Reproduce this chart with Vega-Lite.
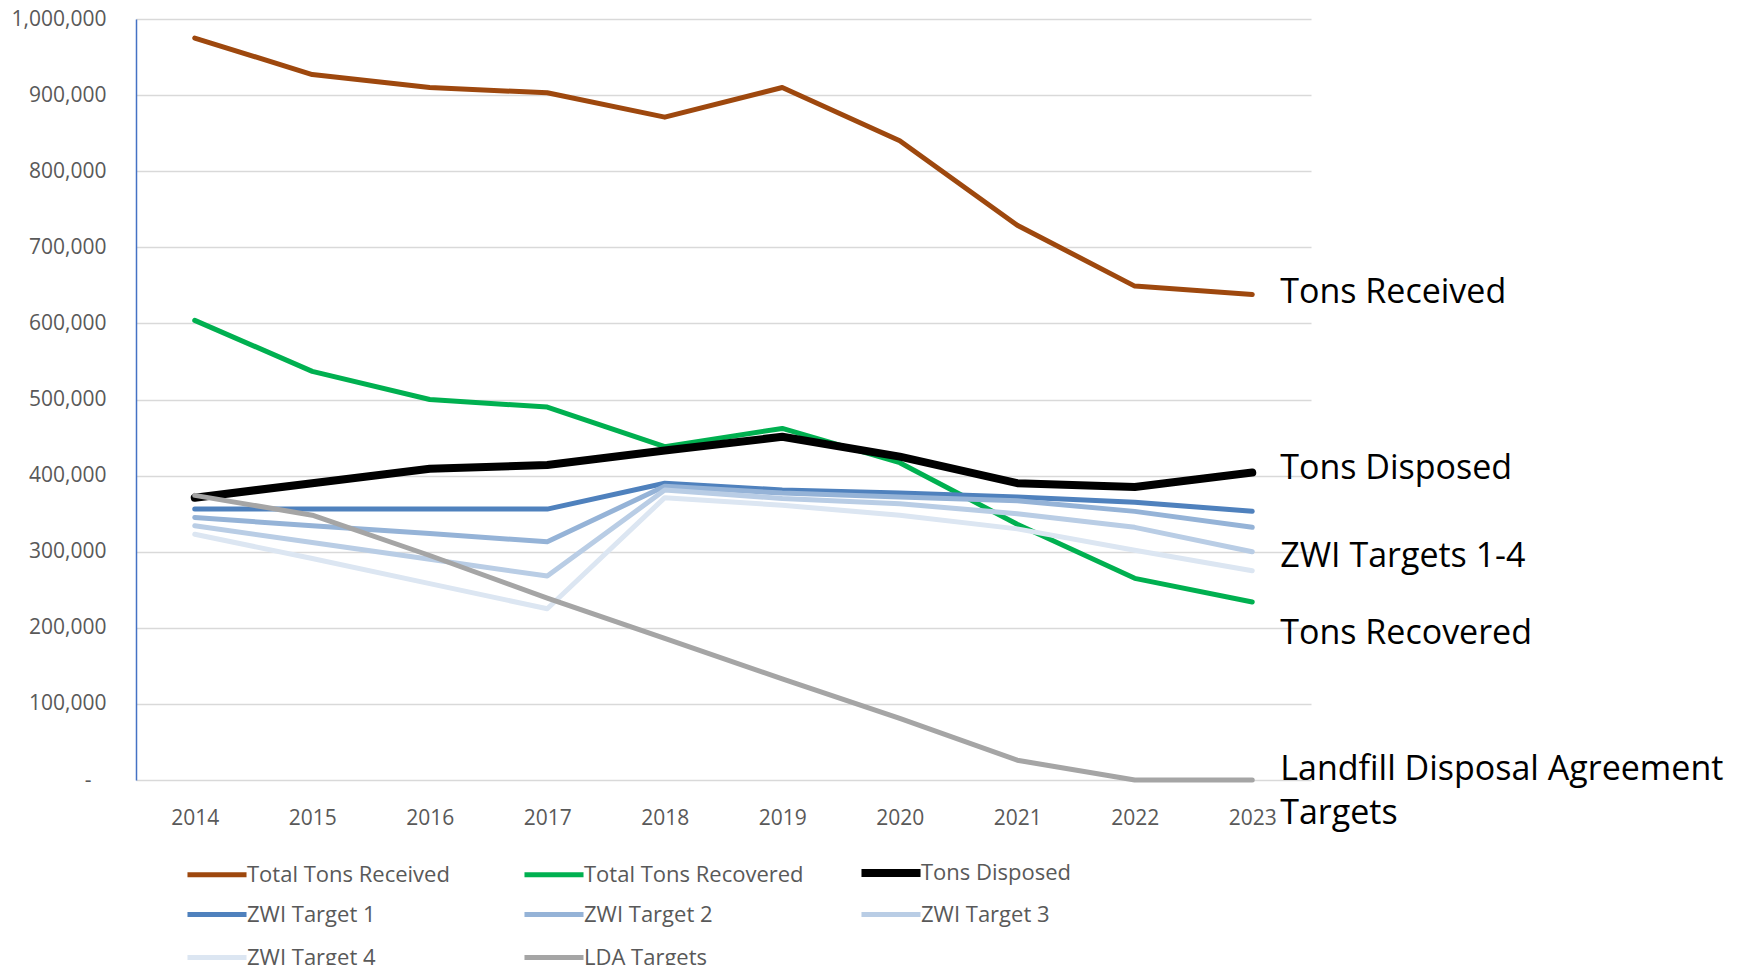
{
  "$schema": "https://vega.github.io/schema/vega-lite/v6.json",
  "width": 1175,
  "height": 761,
  "autosize": {"type": "none"},
  "padding": {"left": 136, "top": 19, "right": 439, "bottom": 185},
  "background": "white",
  "config": {
    "view": {"stroke": null},
    "font": "Open Sans",
    "axis": {"labelFont": "Open Sans", "labelColor": "#595959", "labelFontSize": 21, "ticks": false, "tickSize": 0, "title": null},
    "legend": {"labelFont": "Open Sans", "labelColor": "#595959", "labelFontSize": 22}
  },
  "datasets": {
    "series": [
      {"year": "2014", "series": "Total Tons Received", "tons": 975000},
      {"year": "2015", "series": "Total Tons Received", "tons": 927000},
      {"year": "2016", "series": "Total Tons Received", "tons": 910000},
      {"year": "2017", "series": "Total Tons Received", "tons": 903000},
      {"year": "2018", "series": "Total Tons Received", "tons": 871000},
      {"year": "2019", "series": "Total Tons Received", "tons": 910000},
      {"year": "2020", "series": "Total Tons Received", "tons": 840000},
      {"year": "2021", "series": "Total Tons Received", "tons": 729000},
      {"year": "2022", "series": "Total Tons Received", "tons": 649000},
      {"year": "2023", "series": "Total Tons Received", "tons": 638000},
      {"year": "2014", "series": "Total Tons Recovered", "tons": 604000},
      {"year": "2015", "series": "Total Tons Recovered", "tons": 537000},
      {"year": "2016", "series": "Total Tons Recovered", "tons": 500000},
      {"year": "2017", "series": "Total Tons Recovered", "tons": 490000},
      {"year": "2018", "series": "Total Tons Recovered", "tons": 438000},
      {"year": "2019", "series": "Total Tons Recovered", "tons": 462000},
      {"year": "2020", "series": "Total Tons Recovered", "tons": 417000},
      {"year": "2021", "series": "Total Tons Recovered", "tons": 336000},
      {"year": "2022", "series": "Total Tons Recovered", "tons": 265000},
      {"year": "2023", "series": "Total Tons Recovered", "tons": 234000},
      {"year": "2014", "series": "Tons Disposed", "tons": 371000},
      {"year": "2015", "series": "Tons Disposed", "tons": 390000},
      {"year": "2016", "series": "Tons Disposed", "tons": 409000},
      {"year": "2017", "series": "Tons Disposed", "tons": 414000},
      {"year": "2018", "series": "Tons Disposed", "tons": 433000},
      {"year": "2019", "series": "Tons Disposed", "tons": 451000},
      {"year": "2020", "series": "Tons Disposed", "tons": 425000},
      {"year": "2021", "series": "Tons Disposed", "tons": 390000},
      {"year": "2022", "series": "Tons Disposed", "tons": 385000},
      {"year": "2023", "series": "Tons Disposed", "tons": 404000},
      {"year": "2014", "series": "ZWI Target 1", "tons": 356000},
      {"year": "2015", "series": "ZWI Target 1", "tons": 356000},
      {"year": "2016", "series": "ZWI Target 1", "tons": 356000},
      {"year": "2017", "series": "ZWI Target 1", "tons": 356000},
      {"year": "2018", "series": "ZWI Target 1", "tons": 390000},
      {"year": "2019", "series": "ZWI Target 1", "tons": 381000},
      {"year": "2020", "series": "ZWI Target 1", "tons": 377000},
      {"year": "2021", "series": "ZWI Target 1", "tons": 372000},
      {"year": "2022", "series": "ZWI Target 1", "tons": 365000},
      {"year": "2023", "series": "ZWI Target 1", "tons": 353000},
      {"year": "2014", "series": "ZWI Target 2", "tons": 345000},
      {"year": "2015", "series": "ZWI Target 2", "tons": 334000},
      {"year": "2016", "series": "ZWI Target 2", "tons": 324000},
      {"year": "2017", "series": "ZWI Target 2", "tons": 313000},
      {"year": "2018", "series": "ZWI Target 2", "tons": 386000},
      {"year": "2019", "series": "ZWI Target 2", "tons": 377000},
      {"year": "2020", "series": "ZWI Target 2", "tons": 372000},
      {"year": "2021", "series": "ZWI Target 2", "tons": 367000},
      {"year": "2022", "series": "ZWI Target 2", "tons": 353000},
      {"year": "2023", "series": "ZWI Target 2", "tons": 332000},
      {"year": "2014", "series": "ZWI Target 3", "tons": 334000},
      {"year": "2015", "series": "ZWI Target 3", "tons": 312000},
      {"year": "2016", "series": "ZWI Target 3", "tons": 290000},
      {"year": "2017", "series": "ZWI Target 3", "tons": 268000},
      {"year": "2018", "series": "ZWI Target 3", "tons": 381000},
      {"year": "2019", "series": "ZWI Target 3", "tons": 370000},
      {"year": "2020", "series": "ZWI Target 3", "tons": 363000},
      {"year": "2021", "series": "ZWI Target 3", "tons": 350000},
      {"year": "2022", "series": "ZWI Target 3", "tons": 332000},
      {"year": "2023", "series": "ZWI Target 3", "tons": 300000},
      {"year": "2014", "series": "ZWI Target 4", "tons": 323000},
      {"year": "2015", "series": "ZWI Target 4", "tons": 291000},
      {"year": "2016", "series": "ZWI Target 4", "tons": 258000},
      {"year": "2017", "series": "ZWI Target 4", "tons": 225000},
      {"year": "2018", "series": "ZWI Target 4", "tons": 371000},
      {"year": "2019", "series": "ZWI Target 4", "tons": 361000},
      {"year": "2020", "series": "ZWI Target 4", "tons": 348000},
      {"year": "2021", "series": "ZWI Target 4", "tons": 330000},
      {"year": "2022", "series": "ZWI Target 4", "tons": 302000},
      {"year": "2023", "series": "ZWI Target 4", "tons": 275000},
      {"year": "2014", "series": "LDA Targets", "tons": 374000},
      {"year": "2015", "series": "LDA Targets", "tons": 348000},
      {"year": "2016", "series": "LDA Targets", "tons": 295000},
      {"year": "2017", "series": "LDA Targets", "tons": 239000},
      {"year": "2018", "series": "LDA Targets", "tons": 186000},
      {"year": "2019", "series": "LDA Targets", "tons": 133000},
      {"year": "2020", "series": "LDA Targets", "tons": 81000},
      {"year": "2021", "series": "LDA Targets", "tons": 26000},
      {"year": "2022", "series": "LDA Targets", "tons": 0},
      {"year": "2023", "series": "LDA Targets", "tons": 0}
    ],
    "labels": [
      {"year": "2023", "pos": 643600, "label": "Tons Received"},
      {"year": "2023", "pos": 412000, "label": "Tons Disposed"},
      {"year": "2023", "pos": 297500, "label": "ZWI Targets 1-4"},
      {"year": "2023", "pos": 196300, "label": "Tons Recovered"},
      {"year": "2023", "pos": 17400, "label": "Landfill Disposal Agreement"},
      {"year": "2023", "pos": -41300, "label": "Targets"}
    ]
  },
  "layer": [
    {
      "data": {"name": "series"},
      "mark": {"type": "line", "strokeCap": "round", "strokeJoin": "round"},
      "encoding": {
        "x": {
          "field": "year", "type": "ordinal",
          "scale": {"type": "point", "padding": 0.5},
          "axis": {"domain": false, "grid": false, "labelAngle": 0, "labelPadding": 27}
        },
        "y": {
          "field": "tons", "type": "quantitative",
          "scale": {"domain": [0, 1000000], "nice": false, "zero": true},
          "axis": {
            "values": [0, 100000, 200000, 300000, 400000, 500000, 600000, 700000, 800000, 900000, 1000000],
            "labelExpr": "datum.value === 0 ? '-\u2800' : format(datum.value, ',')",
            "domain": true, "domainColor": "#4472C4", "domainWidth": 1.5,
            "grid": true, "gridColor": "#D9D9D9", "gridWidth": 1.5,
            "labelPadding": 30
          }
        },
        "color": {
          "field": "series", "type": "nominal",
          "scale": {
            "domain": ["Total Tons Received", "Total Tons Recovered", "Tons Disposed", "ZWI Target 1", "ZWI Target 2", "ZWI Target 3", "ZWI Target 4", "LDA Targets"],
            "range": ["#9E480E", "#00B050", "#000000", "#4F81BD", "#95B3D7", "#B9CDE5", "#DCE6F2", "#A5A5A5"]
          },
          "legend": {
            "title": null, "orient": "none", "legendX": 59, "legendY": 832,
            "direction": "horizontal", "columns": 3, "gridAlign": "all",
            "symbolType": "M-1.64,0H1.64", "symbolSize": 1296, "symbolStrokeWidth": 5.5,
            "labelOffset": 8, "columnPadding": 41, "rowPadding": 5, "labelLimit": 400, "padding": 0
          }
        },
        "strokeWidth": {
          "field": "series", "type": "nominal",
          "scale": {
            "type": "ordinal",
            "domain": ["Total Tons Received", "Total Tons Recovered", "Tons Disposed", "ZWI Target 1", "ZWI Target 2", "ZWI Target 3", "ZWI Target 4", "LDA Targets"],
            "range": [5, 5, 8, 5, 5, 5, 5, 5]
          },
          "legend": {
            "title": null, "orient": "none", "legendX": 59, "legendY": 832,
            "direction": "horizontal", "columns": 3, "gridAlign": "all",
            "symbolType": "M-1.64,0H1.64", "symbolSize": 1296,
            "labelOffset": 8, "columnPadding": 41, "rowPadding": 5, "labelLimit": 400, "padding": 0
          }
        }
      }
    },
    {
      "data": {"name": "labels"},
      "mark": {"type": "text", "align": "left", "baseline": "middle", "dx": 28, "dy": 3, "fontSize": 34, "font": "Open Sans", "color": "#000000", "clip": false},
      "encoding": {
        "x": {"field": "year", "type": "ordinal"},
        "y": {"field": "pos", "type": "quantitative"},
        "text": {"field": "label"}
      }
    }
  ]
}
